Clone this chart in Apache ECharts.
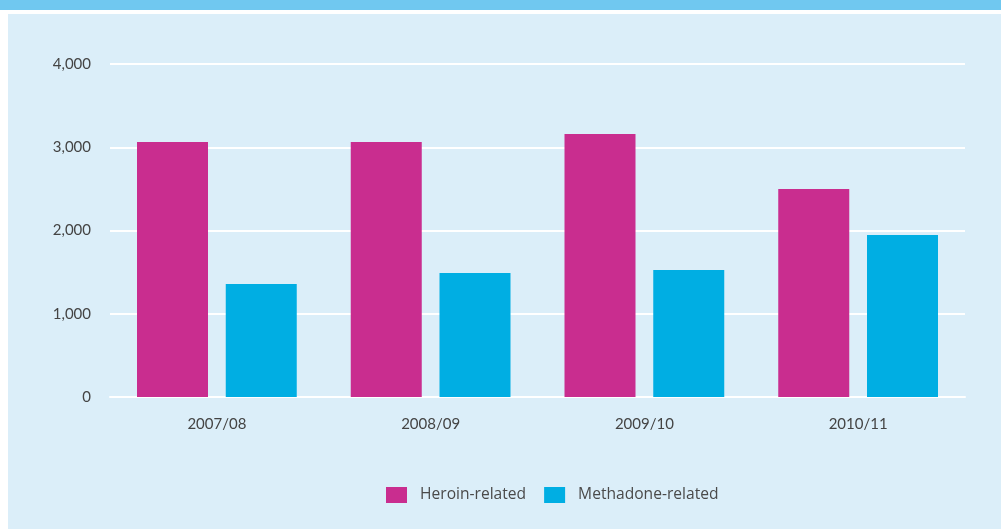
<!DOCTYPE html>
<html><head><meta charset="utf-8">
<script src="https://cdn.jsdelivr.net/npm/echarts@6/dist/echarts.min.js"></script>
<style>html,body{margin:0;padding:0;background:#fff}#c{width:1001px;height:529px}</style>
</head><body><div id="c"></div>
<script>
var categories = ['2007/08', '2008/09', '2009/10', '2010/11'];
var heroin = [3063, 3063, 3160, 2498];
var methadone = [1357, 1490, 1525, 1946];
var seriesNames = ['Heroin-related', 'Methadone-related'];

var chart = echarts.init(document.getElementById('c'));
var font = 'Lato, "Open Sans", sans-serif';
chart.setOption({
  animation: false,
  backgroundColor: '#ffffff',
  graphic: [
    {type: 'rect', z: -10, shape: {x: 0, y: 0, width: 1001, height: 10}, style: {fill: '#70c8f0'}},
    {type: 'rect', z: -10, shape: {x: 8, y: 14, width: 993, height: 515}, style: {fill: '#dbeef9'}}
  ],
  grid: {left: 110, right: 36, top: 64, bottom: 132},
  legend: {
    top: 482, left: 381,
    icon: 'rect',
    itemWidth: 21, itemHeight: 16, itemGap: 18,
    textStyle: {color: '#4a4a4a', fontSize: 15.6, fontFamily: '"Open Sans", sans-serif', padding: [0, 0, 0, 8]},
    data: seriesNames
  },
  xAxis: {
    type: 'category', data: categories,
    axisLine: {show: true, lineStyle: {color: '#ffffff', width: 2}},
    axisTick: {show: false},
    axisLabel: {color: '#444', fontSize: 15, fontFamily: font, margin: 20}
  },
  yAxis: {
    type: 'value', min: 0, max: 4000, interval: 1000,
    axisLine: {show: false}, axisTick: {show: false},
    splitLine: {lineStyle: {color: '#ffffff', width: 2}},
    axisLabel: {color: '#444', fontSize: 15, fontFamily: font, margin: 19,
      formatter: function (v) { return v.toLocaleString('en-US'); }}
  },
  series: [
    {name: seriesNames[0], type: 'bar', data: heroin, barWidth: 71, barGap: '25%', itemStyle: {color: '#c92d8f'}},
    {name: seriesNames[1], type: 'bar', data: methadone, barWidth: 71, itemStyle: {color: '#00aee3'}}
  ]
});
</script></body></html>
